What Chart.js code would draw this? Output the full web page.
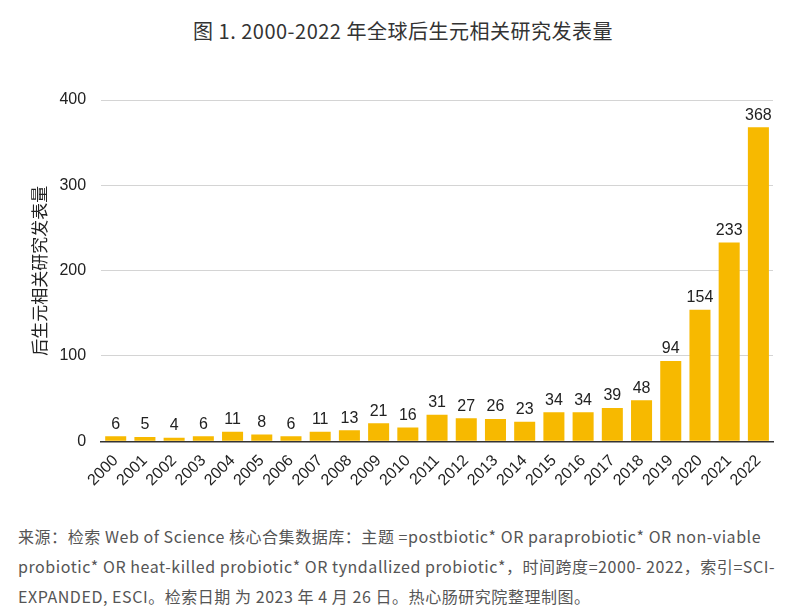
<!DOCTYPE html>
<html>
<head>
<meta charset="utf-8">
<script src="https://cdn.jsdelivr.net/npm/chart.js@4"></script>
<style>
body{margin:0;background:#fff;width:790px;height:613px;overflow:hidden;position:relative}
#title{position:absolute;top:16px;left:0;width:806px;text-align:center;font-family:"Noto Sans CJK SC";font-size:20px;letter-spacing:0.5px;color:#333}
#box{position:absolute;top:60px;left:0;width:790px;height:432px}
#note{position:absolute;top:521px;left:18px;width:780px;font-family:"Noto Sans CJK SC";font-size:16px;letter-spacing:0.55px;line-height:30px;color:#555;white-space:nowrap}
</style>
</head>
<body>
<div id="title">图 1. 2000-2022 年全球后生元相关研究发表量</div>
<div id="box"><canvas id="myChart"></canvas></div>
<div id="note">来源：检索 Web of Science 核心合集数据库：主题 =postbiotic* OR paraprobiotic* OR non-viable<br>probiotic* OR heat-killed probiotic* OR tyndallized probiotic*，时间跨度=2000- 2022，索引=SCI-<br>EXPANDED, ESCI。检索日期 为 2023 年 4 月 26 日。热心肠研究院整理制图。</div>
<script>
var years=["2000","2001","2002","2003","2004","2005","2006","2007","2008","2009","2010","2011","2012","2013","2014","2015","2016","2017","2018","2019","2020","2021","2022"]
var counts=[6,5,4,6,11,8,6,11,13,21,16,31,27,26,23,34,34,39,48,94,154,233,368]
var yTicks=[0,100,200,300,400]

// labels above bars
var valueLabels={
    id:"valueLabels",
    afterDatasetsDraw:function(chart){
        var ctx=chart.ctx
        ctx.save()
        ctx.font="16px 'Liberation Sans'"
        ctx.fillStyle="#222"
        ctx.textAlign="center"
        ctx.textBaseline="bottom"
        chart.getDatasetMeta(0).data.forEach(function(bar,i){
            ctx.fillText(counts[i],bar.x,bar.y-4)
        })
        ctx.restore()
    }
}

var myChart=document.getElementById("myChart").getContext("2d")
var chart=new Chart(myChart,{
    type:"bar",
    data:{
        labels:years,
        datasets:[{
            data:counts,
            backgroundColor:"#F7B900",
            barPercentage:0.72,
            categoryPercentage:1
        }]
    },
    options:{
        responsive:true,
        maintainAspectRatio:false,
        animation:false,
        layout:{padding:{left:29,right:17,top:40,bottom:0}},
        plugins:{legend:{display:false},tooltip:{enabled:false}},
        scales:{
            x:{
                grid:{display:false},
                border:{color:"#333",width:1.5},
                ticks:{color:"#222",font:{family:"Liberation Sans",size:16},autoSkip:false,minRotation:45,maxRotation:45,padding:2}
            },
            y:{
                min:0,max:400,
                afterBuildTicks:function(axis){axis.ticks=yTicks.map(function(v){return {value:v}})},
                grid:{color:"#d4d4d4",drawTicks:false},
                border:{display:false},
                ticks:{color:"#222",font:{family:"Liberation Sans",size:16},padding:15},
                title:{display:true,text:"后生元相关研究发表量",color:"#222",font:{family:"Noto Sans CJK SC",size:17},padding:{top:0,bottom:-5}}
            }
        }
    },
    plugins:[valueLabels]
})
</script>
</body>
</html>
